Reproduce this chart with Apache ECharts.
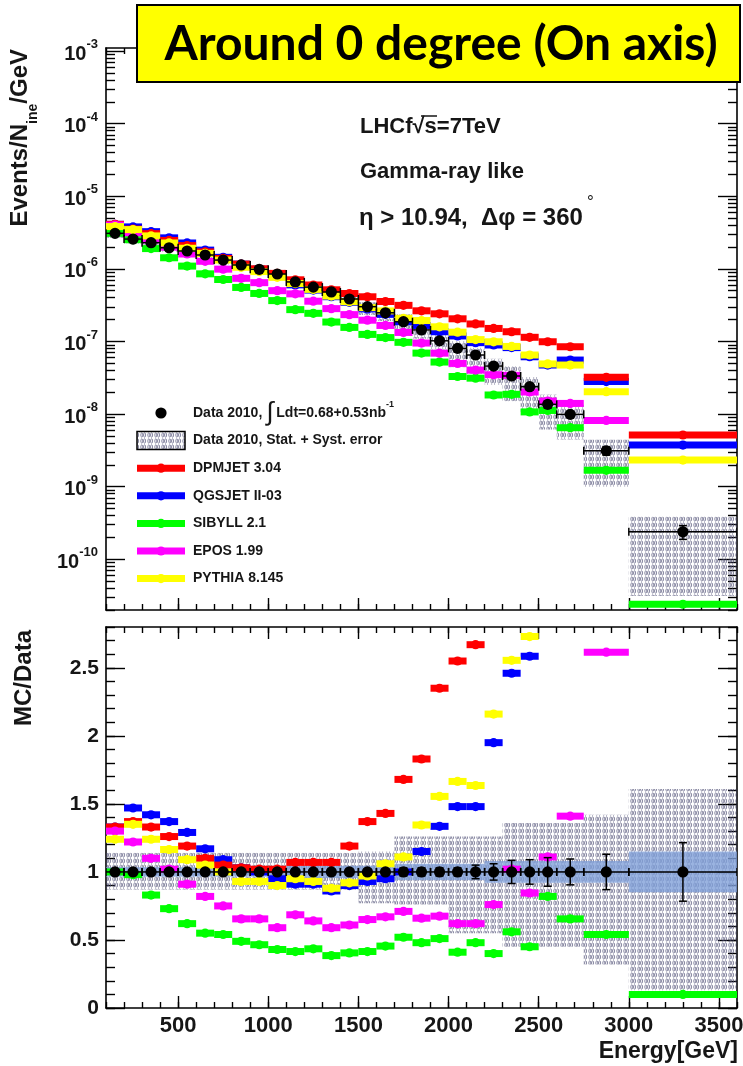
<!DOCTYPE html>
<html>
<head>
<meta charset="utf-8">
<script src="https://cdn.jsdelivr.net/npm/echarts@6/dist/echarts.min.js"></script>
<style>
  html, body { margin: 0; padding: 0; background: #fff; }
  #main { width: 743px; height: 1066px; }
</style>
</head>
<body>
<div id="main"></div>
<script>
// energy bins [GeV]
const binLow  = [100, 200, 300, 400, 500, 600, 700, 800, 900, 1000, 1100, 1200, 1300, 1400, 1500, 1600, 1700, 1800, 1900, 2000, 2100, 2200, 2300, 2400, 2500, 2600, 2750, 3000];
const binHigh = [200, 300, 400, 500, 600, 700, 800, 900, 1000, 1100, 1200, 1300, 1400, 1500, 1600, 1700, 1800, 1900, 2000, 2100, 2200, 2300, 2400, 2500, 2600, 2750, 3000, 3600];

// measured spectrum, Events/N/GeV
const dataFlux = [3.08e-6, 2.57e-6, 2.29e-6, 1.95e-6, 1.76e-6, 1.55e-6, 1.32e-6, 1.13e-6, 9.85e-7, 8.48e-7, 6.6e-7, 5.6e-7, 4.8e-7, 3.84e-7, 3.01e-7, 2.48e-7, 1.87e-7, 1.44e-7, 1.02e-7, 8.03e-8, 6.5e-8, 4.58e-8, 3.34e-8, 2.38e-8, 1.36e-8, 9.9e-9, 3.12e-9, 2.39e-10];
// relative errors of the data
const dataStatErr = [0.02, 0.02, 0.02, 0.02, 0.02, 0.02, 0.02, 0.02, 0.02, 0.02, 0.02, 0.02, 0.02, 0.02, 0.02, 0.02, 0.03, 0.03, 0.03, 0.03, 0.05, 0.06, 0.085, 0.09, 0.105, 0.095, 0.13, 0.215];
const statBand = [0.035, 0.035, 0.035, 0.035, 0.035, 0.035, 0.035, 0.035, 0.035, 0.035, 0.045, 0.045, 0.045, 0.045, 0.045, 0.045, 0.06, 0.06, 0.06, 0.06, 0.06, 0.08, 0.08, 0.08, 0.08, 0.08, 0.08, 0.15];
const sysLow  = [0.87, 0.87, 0.87, 0.87, 0.87, 0.87, 0.87, 0.87, 0.87, 0.87, 0.87, 0.87, 0.87, 0.87, 0.77, 0.77, 0.76, 0.76, 0.76, 0.55, 0.55, 0.55, 0.45, 0.45, 0.45, 0.45, 0.32, 0.13];
const sysHigh = [1.14, 1.14, 1.14, 1.14, 1.14, 1.14, 1.14, 1.14, 1.14, 1.14, 1.14, 1.14, 1.14, 1.14, 1.15, 1.15, 1.26, 1.26, 1.26, 1.26, 1.26, 1.26, 1.36, 1.36, 1.36, 1.36, 1.42, 1.61];

// models, spectrum
const dpmjetFlux = [4.10e-6, 3.52e-6, 3.05e-6, 2.46e-6, 2.09e-6, 1.71e-6, 1.39e-6, 1.16e-6, 1.00e-6, 8.65e-7, 7.06e-7, 5.99e-7, 5.14e-7, 4.57e-7, 4.12e-7, 3.55e-7, 3.14e-7, 2.64e-7, 2.40e-7, 2.05e-7, 1.74e-7, 1.51e-7, 1.36e-7, 1.14e-7, 9.9e-8, 8.45e-8, 3.2e-8, 5.14e-9];
const qgsjetFlux = [4.10e-6, 3.78e-6, 3.25e-6, 2.67e-6, 2.27e-6, 1.81e-6, 1.44e-6, 1.16e-6, 9.85e-7, 8.06e-7, 6.01e-7, 5.10e-7, 4.13e-7, 3.46e-7, 2.80e-7, 2.36e-7, 1.87e-7, 1.66e-7, 1.36e-7, 1.19e-7, 9.62e-8, 8.93e-8, 8.22e-8, 6.15e-8, 4.73e-8, 5.54e-8, 2.8e-8, 3.74e-9];
const sibyllFlux = [3.08e-6, 2.52e-6, 1.90e-6, 1.42e-6, 1.09e-6, 8.53e-7, 7.13e-7, 5.54e-7, 4.58e-7, 3.65e-7, 2.74e-7, 2.44e-7, 1.85e-7, 1.56e-7, 1.25e-7, 1.13e-7, 9.72e-8, 6.91e-8, 5.20e-8, 3.29e-8, 3.12e-8, 1.83e-8, 1.87e-8, 1.07e-8, 1.12e-8, 6.48e-9, 1.68e-9, 2.4e-11];
const eposFlux   = [4.00e-6, 3.14e-6, 2.52e-6, 1.99e-6, 1.60e-6, 1.27e-6, 9.90e-7, 7.40e-7, 6.45e-7, 5.00e-7, 4.52e-7, 3.58e-7, 2.83e-7, 2.34e-7, 1.96e-7, 1.66e-7, 1.33e-7, 9.50e-8, 6.89e-8, 4.98e-8, 4.03e-8, 3.48e-8, 3.41e-8, 2.01e-8, 1.51e-8, 1.40e-8, 8.16e-9, null];
const pythiaFlux = [3.82e-6, 3.47e-6, 2.84e-6, 2.27e-6, 1.92e-6, 1.63e-6, 1.32e-6, 1.05e-6, 9.16e-7, 7.63e-7, 6.27e-7, 5.21e-7, 4.22e-7, 3.53e-7, 2.92e-7, 2.63e-7, 2.08e-7, 1.94e-7, 1.59e-7, 1.34e-7, 1.06e-7, 9.89e-8, 8.53e-8, 6.50e-8, 4.9e-8, 4.73e-8, 2.03e-8, 2.32e-9];

// models, MC/Data
const dpmjetRatio = [1.33, 1.37, 1.33, 1.26, 1.19, 1.10, 1.05, 1.03, 1.02, 1.02, 1.07, 1.07, 1.07, 1.19, 1.37, 1.43, 1.68, 1.83, 2.35, 2.55, 2.67, 3.30, 4.07, 4.79, 7.3, 8.5, 10.3, 21.5];
const qgsjetRatio = [1.33, 1.47, 1.42, 1.37, 1.29, 1.17, 1.09, 1.03, 1.00, 0.95, 0.91, 0.91, 0.86, 0.90, 0.93, 0.95, 1.00, 1.15, 1.335, 1.48, 1.48, 1.95, 2.46, 2.585, 3.48, 5.6, 9.0, 15.6];
const sibyllRatio = [1.0, 0.98, 0.83, 0.73, 0.62, 0.55, 0.54, 0.49, 0.465, 0.43, 0.415, 0.435, 0.385, 0.405, 0.415, 0.455, 0.52, 0.48, 0.51, 0.41, 0.48, 0.40, 0.56, 0.45, 0.82, 0.655, 0.54, 0.10];
const eposRatio   = [1.30, 1.22, 1.10, 1.02, 0.91, 0.82, 0.75, 0.655, 0.655, 0.59, 0.685, 0.64, 0.59, 0.61, 0.65, 0.67, 0.71, 0.66, 0.675, 0.62, 0.62, 0.76, 1.02, 0.845, 1.11, 1.41, 2.615, null];
const pythiaRatio = [1.24, 1.35, 1.24, 1.165, 1.09, 1.05, 1.00, 0.93, 0.93, 0.90, 0.95, 0.93, 0.88, 0.92, 0.97, 1.06, 1.11, 1.345, 1.555, 1.665, 1.635, 2.16, 2.555, 2.73, 3.6, 4.78, 6.5, 9.7];
const dataRatio = [1, 1, 1, 1, 1, 1, 1, 1, 1, 1, 1, 1, 1, 1, 1, 1, 1, 1, 1, 1, 1, 1, 1, 1, 1, 1, 1, 1];

// z decides which colour ends on top where bars overlap
const models = [
  { name: 'DPMJET 3.04',  color: '#ff0000', z: 4, flux: dpmjetFlux, ratio: dpmjetRatio },
  { name: 'QGSJET II-03', color: '#0000ff', z: 3, flux: qgsjetFlux, ratio: qgsjetRatio },
  { name: 'SIBYLL 2.1',   color: '#00ff00', z: 5, flux: sibyllFlux, ratio: sibyllRatio },
  { name: 'EPOS 1.99',    color: '#ff00ff', z: 6, flux: eposFlux,   ratio: eposRatio },
  { name: 'PYTHIA 8.145', color: '#ffff00', z: 7, flux: pythiaFlux, ratio: pythiaRatio }
];

// tick positions
const xMajor = [500, 1000, 1500, 2000, 2500, 3000, 3500];
const logMajor = [1e-10, 1e-9, 1e-8, 1e-7, 1e-6, 1e-5, 1e-4, 1e-3];
const ratioMajor = [0, 0.5, 1, 1.5, 2, 2.5];
const xMinor = [];
for (let e = 100; e <= 3600; e += 100) xMinor.push(e);
const logMinor = [];
for (let p = -11; p <= -4; p++) for (let m = 2; m <= 9; m++) logMinor.push(m * Math.pow(10, p));
const ratioMinor = [];
for (let k = 0; k <= 28; k++) ratioMinor.push(k / 10);

const FONT = '"Liberation Sans", Arial, sans-serif';
const INK = '#161616';

// hatch for the systematic band
const hatch = document.createElement('canvas');
hatch.width = 7; hatch.height = 6;
const hg = hatch.getContext('2d');
hg.strokeStyle = 'rgba(80,80,120,0.75)';
hg.lineWidth = 0.9;
hg.beginPath(); hg.ellipse(1.8, 3, 1.0, 2.2, 0, 0, Math.PI * 2); hg.stroke();
hg.beginPath(); hg.ellipse(4.6, 3, 1.0, 2.2, 0, 0, Math.PI * 2); hg.stroke();
const hatchFill = { image: hatch, repeat: 'repeat' };

function rows(...cols) {
  return binLow.map((lo, i) => [lo, binHigh[i]].concat(cols.map(c => c[i])));
}

function mcRender(color) {
  return function (params, api) {
    const v = api.value(2);
    if (v == null || isNaN(v)) return null;
    const lo = api.value(0), hi = api.value(1);
    const a = api.coord([lo, v]), b = api.coord([hi, v]), c = api.coord([(lo + hi) / 2, v]);
    return { type: 'group', children: [
      { type: 'rect', shape: { x: a[0], y: a[1] - 3.5, width: b[0] - a[0], height: 7 }, style: { fill: color } },
      { type: 'circle', shape: { cx: c[0], cy: c[1], r: 4.6 }, style: { fill: color } }
    ] };
  };
}

function dataRender(params, api) {
  const lo = api.value(0), hi = api.value(1), v = api.value(2), e = api.value(3);
  const mid = (lo + hi) / 2;
  const a = api.coord([lo, v]), b = api.coord([hi, v]), c = api.coord([mid, v]);
  const up = api.coord([mid, v * (1 + e)]), dn = api.coord([mid, v * (1 - e)]);
  const ink = { stroke: '#000', lineWidth: 1.5 };
  return { type: 'group', children: [
    { type: 'line', shape: { x1: a[0], y1: a[1], x2: b[0], y2: b[1] }, style: ink },
    { type: 'line', shape: { x1: a[0], y1: a[1] - 4, x2: a[0], y2: a[1] + 4 }, style: ink },
    { type: 'line', shape: { x1: b[0], y1: b[1] - 4, x2: b[0], y2: b[1] + 4 }, style: ink },
    { type: 'line', shape: { x1: c[0], y1: up[1], x2: c[0], y2: dn[1] }, style: ink },
    { type: 'line', shape: { x1: c[0] - 4, y1: up[1], x2: c[0] + 4, y2: up[1] }, style: ink },
    { type: 'line', shape: { x1: c[0] - 4, y1: dn[1], x2: c[0] + 4, y2: dn[1] }, style: ink },
    { type: 'circle', shape: { cx: c[0], cy: c[1], r: 5.6 }, style: { fill: '#000' } }
  ] };
}

// spectrum band: flux x (sys ratio)
function sysTopRender(params, api) {
  const lo = api.value(0), hi = api.value(1), v = api.value(2);
  const p = api.coord([lo, v * api.value(4)]), q = api.coord([hi, v * api.value(3)]);
  return { type: 'rect', shape: { x: p[0], y: p[1], width: q[0] - p[0], height: q[1] - p[1] }, style: { fill: hatchFill } };
}
function sysRatioRender(params, api) {
  const p = api.coord([api.value(0), api.value(3)]), q = api.coord([api.value(1), api.value(2)]);
  return { type: 'rect', shape: { x: p[0], y: p[1], width: q[0] - p[0], height: q[1] - p[1] }, style: { fill: hatchFill } };
}
function statRatioRender(params, api) {
  const e = api.value(2);
  const p = api.coord([api.value(0), 1 + e]), q = api.coord([api.value(1), 1 - e]);
  return { type: 'rect', shape: { x: p[0], y: p[1], width: q[0] - p[0], height: q[1] - p[1] }, style: { fill: 'rgba(125,158,215,0.78)' } };
}

const tickStyle = { color: '#000', width: 1.4 };
const lineStyle = { color: '#000', width: 1.6 };

function xAxisDef(gridIndex, position, ticks, len, withLine, labels) {
  return {
    type: 'value', gridIndex: gridIndex, position: position, min: 100, max: 3600,
    axisLine: { show: withLine, onZero: false, lineStyle: lineStyle },
    axisTick: { show: true, inside: true, length: len, customValues: ticks, lineStyle: tickStyle },
    axisLabel: labels ? {
      show: true, customValues: ticks, margin: 7, color: INK, formatter: v => String(v),
      fontFamily: FONT, fontWeight: 'bold', fontSize: 22
    } : { show: false },
    splitLine: { show: false }
  };
}

function logAxisDef(position, ticks, len, withLine, labels) {
  return {
    type: 'log', logBase: 10, gridIndex: 0, position: position, min: 2e-11, max: 1.1e-3,
    axisLine: { show: withLine, onZero: false, lineStyle: lineStyle },
    axisTick: { show: true, inside: true, length: len, customValues: ticks, lineStyle: tickStyle },
    axisLabel: labels ? {
      show: true, customValues: ticks, margin: 8,
      formatter: v => '{b|10}{s|' + Math.round(Math.log10(v)) + '}',
      rich: {
        b: { fontFamily: FONT, fontWeight: 'bold', fontSize: 20, color: INK, lineHeight: 26, verticalAlign: 'bottom' },
        s: { fontFamily: FONT, fontWeight: 'bold', fontSize: 13, color: INK, verticalAlign: 'top' }
      }
    } : { show: false },
    splitLine: { show: false }
  };
}

function ratioAxisDef(position, ticks, len, withLine, labels) {
  return {
    type: 'value', gridIndex: 1, position: position, min: 0, max: 2.8,
    axisLine: { show: withLine, onZero: false, lineStyle: lineStyle },
    axisTick: { show: true, inside: true, length: len, customValues: ticks, lineStyle: tickStyle },
    axisLabel: labels ? {
      show: true, customValues: ticks, margin: 7, color: INK, formatter: v => String(v),
      fontFamily: FONT, fontWeight: 'bold', fontSize: 21
    } : { show: false },
    splitLine: { show: false }
  };
}

const series = [];
// top panel
series.push({ type: 'custom', xAxisIndex: 0, yAxisIndex: 0, clip: true, z: 2,
  renderItem: sysTopRender, encode: { x: [0, 1], y: 2 }, data: rows(dataFlux, sysLow, sysHigh) });
models.forEach(m => series.push({
  type: 'custom', name: m.name, xAxisIndex: 0, yAxisIndex: 0, clip: true, z: m.z,
  itemStyle: { color: m.color }, renderItem: mcRender(m.color),
  encode: { x: [0, 1], y: 2 }, data: rows(m.flux)
}));
series.push({ type: 'custom', xAxisIndex: 0, yAxisIndex: 0, clip: true, z: 10,
  renderItem: dataRender, encode: { x: [0, 1], y: 2 }, data: rows(dataFlux, dataStatErr) });
// ratio panel
series.push({ type: 'custom', xAxisIndex: 4, yAxisIndex: 4, clip: true, z: 2,
  renderItem: sysRatioRender, encode: { x: [0, 1], y: 2 }, data: rows(sysLow, sysHigh) });
series.push({ type: 'custom', xAxisIndex: 4, yAxisIndex: 4, clip: true, z: 2,
  renderItem: statRatioRender, encode: { x: [0, 1], y: 2 }, data: rows(statBand) });
models.forEach(m => series.push({
  type: 'custom', xAxisIndex: 4, yAxisIndex: 4, clip: true, z: m.z,
  renderItem: mcRender(m.color), encode: { x: [0, 1], y: 2 }, data: rows(m.ratio)
}));
series.push({ type: 'custom', xAxisIndex: 4, yAxisIndex: 4, clip: true, z: 10,
  renderItem: dataRender, encode: { x: [0, 1], y: 2 }, data: rows(dataRatio, dataStatErr) });

// legend drawn as graphic
const legendTop = 413, legendStep = 27.6;
const legendItems = [];
legendItems.push({ type: 'circle', shape: { cx: 161, cy: legendTop, r: 5.6 }, style: { fill: '#000' } });
legendItems.push({ type: 'text', x: 193, y: legendTop, style: {
  text: '{a|Data 2010, }{i|∫}{a|Ldt=0.68+0.53nb}{s|-1}', textVerticalAlign: 'middle', verticalAlign: 'middle',
  rich: {
    a: { fontFamily: FONT, fontWeight: 'bold', fontSize: 14, fill: INK, color: INK },
    i: { fontFamily: FONT, fontSize: 26, fill: INK, color: INK, padding: [0, 3, 0, 0] },
    s: { fontFamily: FONT, fontWeight: 'bold', fontSize: 9, fill: INK, color: INK, verticalAlign: 'top' }
  } } });
legendItems.push({ type: 'rect', shape: { x: 137, y: legendTop + legendStep - 9, width: 48, height: 18 },
  style: { fill: hatchFill, stroke: '#000', lineWidth: 1.5 } });
legendItems.push({ type: 'text', x: 193, y: legendTop + legendStep, style: {
  text: 'Data 2010, Stat. + Syst. error', font: 'bold 14px ' + FONT, fill: INK,
  textVerticalAlign: 'middle', verticalAlign: 'middle' } });
models.forEach((m, k) => {
  const y = legendTop + legendStep * (k + 2);
  legendItems.push({ type: 'rect', shape: { x: 137, y: y - 3.5, width: 48, height: 7 }, style: { fill: m.color } });
  legendItems.push({ type: 'circle', shape: { cx: 161, cy: y, r: 4.6 }, style: { fill: m.color } });
  legendItems.push({ type: 'text', x: 193, y: y, style: {
    text: m.name, font: 'bold 14px ' + FONT, fill: INK, textVerticalAlign: 'middle', verticalAlign: 'middle' } });
});

const graphics = legendItems.map(g => Object.assign({ z: 20 }, g)).concat([
  { type: 'text', x: 360, y: 127, z: 20, style: { text: 'LHCf√s=7TeV', font: 'bold 22px ' + FONT, fill: INK, textVerticalAlign: 'middle', verticalAlign: 'middle' } },
  { type: 'line', z: 20, shape: { x1: 421, y1: 116, x2: 437, y2: 116 }, style: { stroke: INK, lineWidth: 1.5 } },
  { type: 'text', x: 360, y: 172, z: 20, style: { text: 'Gamma-ray like', font: 'bold 22px ' + FONT, fill: INK, textVerticalAlign: 'middle', verticalAlign: 'middle' } },
  { type: 'text', x: 359, y: 212, z: 20, style: {
    text: '{a|η > 10.94,  Δφ = 360}{d|°}', textVerticalAlign: 'middle', verticalAlign: 'middle',
    rich: {
      a: { fontFamily: FONT, fontWeight: 'bold', fontSize: 24, fill: INK, color: INK, lineHeight: 36, verticalAlign: 'bottom' },
      d: { fontFamily: FONT, fontSize: 17, fill: INK, color: INK, verticalAlign: 'top', padding: [0, 0, 0, 4] }
    } } },
  { type: 'text', x: 24, y: 49, rotation: Math.PI / 2, z: 20, style: {
    text: '{a|Events/N}{s|ine}{a|/GeV}', textAlign: 'right', align: 'right', textVerticalAlign: 'middle', verticalAlign: 'middle',
    rich: {
      a: { fontFamily: FONT, fontWeight: 'bold', fontSize: 24, fill: INK, color: INK, lineHeight: 32, verticalAlign: 'top' },
      s: { fontFamily: FONT, fontWeight: 'bold', fontSize: 14, fill: INK, color: INK, verticalAlign: 'bottom' }
    } } },
  { type: 'text', x: 24, y: 630, rotation: Math.PI / 2, z: 20, style: {
    text: 'MC/Data', font: 'bold 24px ' + FONT, fill: INK, textAlign: 'right', align: 'right', textVerticalAlign: 'middle', verticalAlign: 'middle' } },
  { type: 'text', x: 738, y: 1052, z: 20, style: {
    text: 'Energy[GeV]', font: 'bold 23px ' + FONT, fill: INK, textAlign: 'right', align: 'right', textVerticalAlign: 'middle', verticalAlign: 'middle' } },
  { type: 'rect', z: 100, shape: { x: 137, y: 5, width: 603, height: 77 }, style: { fill: '#ffff00', stroke: '#000', lineWidth: 2 } },
  { type: 'text', x: 441, y: 45, z: 101, style: {
    text: 'Around 0 degree (On axis)', font: 'bold 48px Lato, "Open Sans", sans-serif', fill: '#000',
    textAlign: 'center', align: 'center', textVerticalAlign: 'middle', verticalAlign: 'middle' } }
]);

const chart = echarts.init(document.getElementById('main'), null, { renderer: 'canvas' });
chart.setOption({
  animation: false,
  backgroundColor: '#fff',
  grid: [
    { left: 106, top: 48, width: 631, height: 562, outerBoundsMode: 'none' },
    { left: 106, top: 627, width: 631, height: 381, outerBoundsMode: 'none' }
  ],
  xAxis: [
    xAxisDef(0, 'bottom', xMajor, 12, true, false),
    xAxisDef(0, 'bottom', xMinor, 6, false, false),
    xAxisDef(0, 'top', xMajor, 12, true, false),
    xAxisDef(0, 'top', xMinor, 6, false, false),
    xAxisDef(1, 'bottom', xMajor, 12, true, true),
    xAxisDef(1, 'bottom', xMinor, 6, false, false),
    xAxisDef(1, 'top', xMajor, 12, true, false),
    xAxisDef(1, 'top', xMinor, 6, false, false)
  ],
  yAxis: [
    logAxisDef('left', logMajor, 19, true, true),
    logAxisDef('left', logMinor, 9, false, false),
    logAxisDef('right', logMajor, 19, true, false),
    logAxisDef('right', logMinor, 9, false, false),
    ratioAxisDef('left', ratioMajor, 19, true, true),
    ratioAxisDef('left', ratioMinor, 9, false, false),
    ratioAxisDef('right', ratioMajor, 19, true, false),
    ratioAxisDef('right', ratioMinor, 9, false, false)
  ],
  series: series,
  graphic: graphics
});
</script>
</body>
</html>
